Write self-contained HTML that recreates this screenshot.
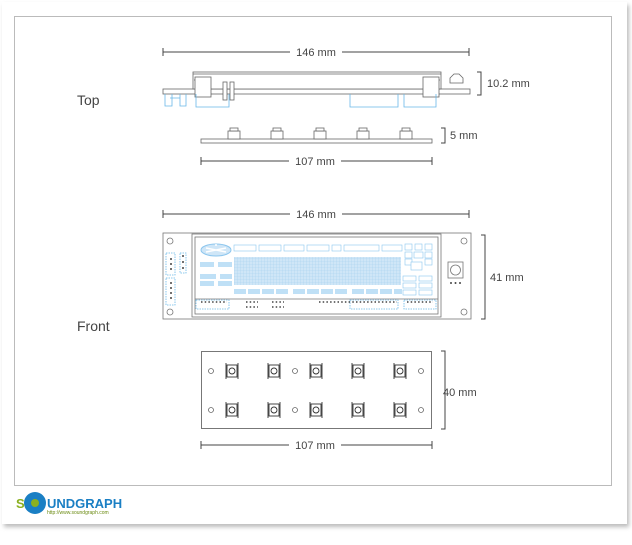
<!DOCTYPE html>
<html><head><style>
html,body{margin:0;padding:0;background:#fff;}
body{width:632px;height:540px;overflow:hidden;position:relative;font-family:"Liberation Sans",sans-serif;}
</style></head><body>
<svg width="632" height="540" xmlns="http://www.w3.org/2000/svg" font-family="Liberation Sans, sans-serif">
<defs>
<filter id="sh" x="-5%" y="-5%" width="110%" height="110%"><feGaussianBlur stdDeviation="2"/></filter>
<pattern id="grid" width="3" height="3" patternUnits="userSpaceOnUse"><rect width="3" height="3" fill="#cfe6f7"/><path d="M0 0H3M0 0V3" stroke="#a8d2f0" stroke-width="0.6"/></pattern>
<g id="b"><rect x="-5" y="-6" width="10" height="12"/><circle r="3"/><path d="M-6 -8v16M6 -8v16"/></g>
</defs>
<rect x="4" y="5" width="625" height="522" fill="#bbb" filter="url(#sh)"/>
<rect x="2" y="2" width="625" height="522" fill="#fff"/>
<rect x="14.5" y="16.5" width="597" height="469" fill="none" stroke="#bbb"/>

<g stroke="#444" stroke-width="1" fill="none">
<path d="M163 48v8M163 52H290M342 52H469M469 48v8"/>
<path d="M201 157v8M201 161H289M341 161H432M432 157v8"/>
<path d="M163 210v8M163 214H290M342 214H469M469 210v8"/>
<path d="M201 441v8M201 445H289M341 445H432M432 441v8"/>
<path d="M477 72h4v23h-4M441 128h4v15h-4M481 235h4v84h-4M441 351h4v78h-4"/>
</g>
<g font-size="11" fill="#444">
<text x="316" y="56" text-anchor="middle">146 mm</text>
<text x="315" y="165" text-anchor="middle">107 mm</text>
<text x="316" y="218" text-anchor="middle">146 mm</text>
<text x="315" y="449" text-anchor="middle">107 mm</text>
<text x="487" y="87">10.2 mm</text>
<text x="450" y="139">5 mm</text>
<text x="490" y="281">41 mm</text>
<text x="443" y="396">40 mm</text>
</g>
<text x="77" y="105" font-size="14" fill="#444">Top</text>
<text x="77" y="331" font-size="14" fill="#444">Front</text>

<g stroke="#666" fill="#fff" stroke-width="0.8">
<rect x="163" y="89" width="307" height="5"/>
<rect x="193" y="72" width="248" height="17"/>
<path d="M193 74h248M194 80h15M425 80h15"/>
<rect x="195" y="77" width="16" height="20"/><rect x="423" y="77" width="16" height="20"/>
<rect x="223" y="82" width="4" height="18"/><rect x="230" y="82" width="4" height="18"/>
<path d="M450 83v-5l4-4h5l4 4v5z"/>
<rect x="201" y="139" width="231" height="4"/>
<rect x="228" y="131" width="12" height="8"/><rect x="271" y="131" width="12" height="8"/><rect x="314" y="131" width="12" height="8"/><rect x="357" y="131" width="12" height="8"/><rect x="400" y="131" width="12" height="8"/>
<rect x="230" y="128" width="8" height="3"/><rect x="273" y="128" width="8" height="3"/><rect x="316" y="128" width="8" height="3"/><rect x="359" y="128" width="8" height="3"/><rect x="402" y="128" width="8" height="3"/>
</g>
<g stroke="#6ab8e8" fill="none" stroke-width="0.8">
<path d="M196 94v13h33v-13M350 94v13h48v-13M404 94v13h32v-13M165 94v12h7v-12M170 98h10v8M180 94v12h6v-12"/>
</g>

<g stroke="#777" fill="#fff" stroke-width="0.8">
<rect x="163" y="233" width="308" height="86"/>
<circle cx="170" cy="241" r="3"/><circle cx="464" cy="241" r="3"/><circle cx="170" cy="312" r="3"/><circle cx="464" cy="312" r="3"/>
<rect x="192" y="234" width="249" height="83"/>
<rect x="195" y="237" width="243" height="77"/>
<path d="M195 299h243"/>
<rect x="448" y="262" width="15" height="16"/><circle cx="455.5" cy="270" r="5"/>
</g>
<g fill="#444"><circle cx="451" cy="283" r="1"/><circle cx="455.5" cy="283" r="1"/><circle cx="460" cy="283" r="1"/></g>
<g stroke="#6ab8e8" fill="none" stroke-width="0.8" stroke-dasharray="1.5 1">
<rect x="166" y="253" width="9" height="22"/><rect x="166" y="278" width="9" height="27"/>
<rect x="180" y="253" width="6" height="20"/>
<rect x="196" y="300" width="33" height="9"/><rect x="350" y="300" width="48" height="9"/><rect x="404" y="300" width="32" height="9"/>
</g>
<g fill="#444">
<circle cx="171" cy="259" r="1"/><circle cx="171" cy="264" r="1"/><circle cx="171" cy="269" r="1"/>
<circle cx="183" cy="256" r="1"/><circle cx="183" cy="262" r="1"/><circle cx="183" cy="268" r="1"/>
<circle cx="171" cy="283" r="1"/><circle cx="171" cy="288" r="1"/><circle cx="171" cy="293" r="1"/><circle cx="171" cy="298" r="1"/>
</g>
<g stroke="#444" stroke-width="1.5" stroke-dasharray="1.5 2.2">
<path d="M201 302h26M246 302h12M246 307h12M272 302h12M272 307h12M319 302h78M407 302h26"/>
</g>
<ellipse cx="216" cy="250" rx="15" ry="6" fill="#cfe6f7" stroke="#8cc6ee"/>
<path d="M206 248l20 4M226 248l-20 4M216 244v2" stroke="#fff" stroke-width="1.5"/>
<rect x="234" y="257" width="167" height="28" fill="url(#grid)"/>
<g fill="#fff" stroke="#8cc6ee" stroke-width="0.6">
<rect x="234" y="245" width="22" height="6"/><rect x="259" y="245" width="22" height="6"/><rect x="284" y="245" width="20" height="6"/><rect x="307" y="245" width="22" height="6"/><rect x="332" y="245" width="9" height="6"/><rect x="344" y="245" width="35" height="6"/><rect x="382" y="245" width="20" height="6"/>
<rect x="405" y="244" width="7" height="6"/><rect x="415" y="244" width="7" height="6"/><rect x="425" y="244" width="7" height="6"/>
<rect x="405" y="252" width="7" height="6"/><rect x="414" y="252" width="9" height="6"/><rect x="425" y="252" width="7" height="6"/>
<rect x="405" y="259" width="7" height="6"/><rect x="411" y="262" width="11" height="8"/><rect x="425" y="259" width="7" height="6"/>
<rect x="403" y="276" width="13" height="5"/><rect x="419" y="276" width="13" height="5"/>
<rect x="403" y="283" width="13" height="5"/><rect x="419" y="283" width="13" height="5"/>
<rect x="403" y="290" width="13" height="5"/><rect x="419" y="290" width="13" height="5"/>
</g>
<g fill="#bfe0f6">
<rect x="200" y="262" width="14" height="5"/><rect x="218" y="262" width="14" height="5"/>
<rect x="200" y="274" width="16" height="5"/><rect x="220" y="274" width="12" height="5"/>
<rect x="200" y="281" width="14" height="5"/><rect x="218" y="281" width="14" height="5"/>
<rect x="234" y="289" width="12" height="5"/><rect x="248" y="289" width="12" height="5"/><rect x="262" y="289" width="12" height="5"/><rect x="276" y="289" width="12" height="5"/>
<rect x="293" y="289" width="12" height="5"/><rect x="307" y="289" width="12" height="5"/><rect x="321" y="289" width="12" height="5"/><rect x="335" y="289" width="12" height="5"/>
<rect x="352" y="289" width="12" height="5"/><rect x="366" y="289" width="12" height="5"/><rect x="380" y="289" width="12" height="5"/><rect x="394" y="289" width="8" height="5"/>
</g>

<rect x="201.5" y="351.5" width="230" height="77" fill="#fff" stroke="#777"/>
<g stroke="#666" fill="none" stroke-width="0.8">
<circle cx="211" cy="371" r="2.5"/><circle cx="295" cy="371" r="2.5"/><circle cx="421" cy="371" r="2.5"/>
<circle cx="211" cy="410" r="2.5"/><circle cx="295" cy="410" r="2.5"/><circle cx="421" cy="410" r="2.5"/>
</g>
<g stroke="#333" fill="#fff" stroke-width="0.9">
<use href="#b" transform="translate(232,371)"/><use href="#b" transform="translate(274,371)"/><use href="#b" transform="translate(316,371)"/><use href="#b" transform="translate(358,371)"/><use href="#b" transform="translate(400,371)"/>
<use href="#b" transform="translate(232,410)"/><use href="#b" transform="translate(274,410)"/><use href="#b" transform="translate(316,410)"/><use href="#b" transform="translate(358,410)"/><use href="#b" transform="translate(400,410)"/>
</g>

<circle cx="35" cy="503" r="11" fill="#1a7fc4"/>
<circle cx="35" cy="503" r="4" fill="#8ab020"/>
<text x="16" y="508" font-size="13" font-weight="bold" fill="#8ab020">S</text>
<text x="47" y="508" font-size="13" font-weight="bold" fill="#1a7fc4">UNDGRAPH</text>
<text x="47" y="514" font-size="5" fill="#6a8a10">http://www.soundgraph.com</text>
</svg>
</body></html>
